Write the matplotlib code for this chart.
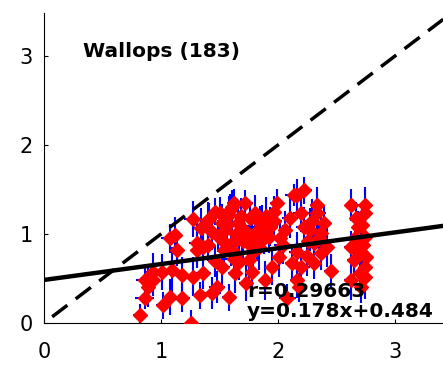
import numpy as np
import matplotlib.pyplot as plt

# Station matchups: observed x vs y with 1-sigma errors
x_obs = [0.82, 1.26, 1.27, 1.41, 1.34, 1.08, 1.12, 1.14, 1.31, 1.31,
         1.36, 0.86, 0.89, 0.93, 0.86, 1.02, 1.08, 1.18, 1.09, 1.18,
         1.27, 1.33, 1.44, 1.01, 0.93, 1.36, 1.46, 1.40, 1.59, 1.62,
         1.72, 1.61, 1.50, 1.58, 1.80, 1.99, 2.14, 1.86, 1.55, 1.69,
         1.92, 2.06, 1.52, 1.61, 2.01, 1.95, 1.52, 1.63, 1.78, 1.48,
         1.58, 1.89, 2.08, 2.12, 1.75, 1.84, 1.66, 1.70, 1.76, 1.64,
         2.22, 2.16, 2.33, 2.33, 2.62, 2.74, 2.20, 2.74, 2.39, 2.22,
         2.68, 2.37, 2.74, 2.31, 2.42, 2.62, 2.16, 2.37, 2.71, 2.65,
         2.74, 2.20, 2.31, 2.62, 2.74, 2.16, 2.71, 2.18, 1.54, 1.67,
         1.82, 1.97, 2.04, 1.46, 1.73, 1.90, 2.27, 2.45, 2.66, 2.72,
         1.56, 1.64, 1.71, 1.78, 1.85, 1.93, 1.49, 1.68, 1.81, 1.60,
         1.74, 1.88, 2.10, 2.26, 2.29, 2.73, 2.70, 2.75, 2.67, 1.44,
         1.52, 1.97, 2.02, 1.79, 2.25, 2.35, 1.62, 1.40]
y_obs = [0.09, 0.00, 1.17, 1.17, 1.07, 0.95, 0.99, 0.82, 0.90, 0.82,
         0.85, 0.48, 0.40, 0.48, 0.28, 0.20, 0.29, 0.28, 0.60, 0.54,
         0.52, 0.31, 0.34, 0.57, 0.57, 0.56, 1.25, 1.16, 1.27, 1.35,
         1.35, 1.30, 1.24, 1.21, 1.24, 1.35, 1.44, 1.08, 1.04, 1.01,
         0.97, 1.04, 0.93, 0.90, 0.74, 0.63, 0.63, 0.56, 0.57, 0.40,
         0.29, 0.48, 0.28, 0.67, 0.71, 0.85, 1.12, 0.92, 1.18, 0.78,
         1.49, 1.44, 1.33, 1.24, 1.33, 1.33, 1.24, 1.24, 1.12, 1.08,
         1.08, 1.01, 0.97, 0.90, 0.85, 0.85, 0.80, 0.79, 0.80, 0.71,
         0.63, 0.63, 0.67, 0.48, 0.52, 0.48, 0.40, 0.40, 0.82, 0.68,
         0.95, 1.15, 0.88, 0.70, 0.45, 1.20, 1.05, 0.58, 0.95, 1.10,
         1.10, 1.00, 1.05, 0.98, 1.12, 1.08, 0.98, 1.20, 1.02, 0.88,
         0.90, 0.95, 1.18, 0.92, 1.15, 0.88, 0.56, 0.74, 1.18, 1.02,
         1.12, 1.25, 0.95, 0.80, 0.75, 0.95, 0.72, 0.88]
x_err = [0.06, 0.05, 0.07, 0.05, 0.06, 0.08, 0.05, 0.06, 0.07, 0.05,
         0.06, 0.07, 0.05, 0.06, 0.08, 0.06, 0.05, 0.07, 0.06, 0.08,
         0.05, 0.06, 0.07, 0.05, 0.06, 0.07, 0.06, 0.05, 0.08, 0.06,
         0.07, 0.05, 0.06, 0.07, 0.05, 0.06, 0.08, 0.07, 0.05, 0.06,
         0.07, 0.05, 0.06, 0.08, 0.06, 0.05, 0.07, 0.06, 0.05, 0.07,
         0.06, 0.05, 0.07, 0.06, 0.08, 0.05, 0.06, 0.07, 0.05, 0.06,
         0.07, 0.05, 0.06, 0.08, 0.05, 0.06, 0.07, 0.05, 0.06, 0.07,
         0.05, 0.06, 0.04, 0.07, 0.05, 0.06, 0.07, 0.05, 0.04, 0.06,
         0.04, 0.07, 0.05, 0.06, 0.04, 0.06, 0.04, 0.05, 0.06, 0.07,
         0.05, 0.06, 0.07, 0.05, 0.06, 0.07, 0.05, 0.06, 0.05, 0.04,
         0.06, 0.05, 0.07, 0.06, 0.05, 0.07, 0.06, 0.05, 0.06, 0.07,
         0.05, 0.06, 0.07, 0.05, 0.06, 0.04, 0.05, 0.04, 0.05, 0.06,
         0.07, 0.05, 0.06, 0.07, 0.05, 0.06, 0.07, 0.05]
y_err = [0.12, 0.15, 0.20, 0.18, 0.22, 0.16, 0.20, 0.18, 0.25, 0.20,
         0.18, 0.15, 0.22, 0.18, 0.12, 0.15, 0.20, 0.16, 0.25, 0.20,
         0.22, 0.15, 0.18, 0.20, 0.22, 0.18, 0.15, 0.20, 0.18, 0.16,
         0.14, 0.20, 0.18, 0.22, 0.20, 0.16, 0.12, 0.25, 0.22, 0.20,
         0.18, 0.22, 0.20, 0.25, 0.22, 0.20, 0.24, 0.22, 0.20, 0.18,
         0.15, 0.22, 0.16, 0.20, 0.22, 0.25, 0.20, 0.22, 0.18, 0.24,
         0.15, 0.18, 0.20, 0.22, 0.18, 0.20, 0.22, 0.25, 0.20, 0.22,
         0.18, 0.22, 0.25, 0.20, 0.22, 0.18, 0.22, 0.20, 0.24, 0.22,
         0.20, 0.22, 0.18, 0.22, 0.25, 0.20, 0.18, 0.16, 0.22, 0.20,
         0.24, 0.20, 0.22, 0.18, 0.20, 0.22, 0.24, 0.20, 0.22, 0.25,
         0.20, 0.22, 0.18, 0.24, 0.20, 0.22, 0.18, 0.20, 0.22, 0.24,
         0.20, 0.18, 0.22, 0.20, 0.24, 0.22, 0.20, 0.22, 0.18, 0.20,
         0.22, 0.18, 0.20, 0.24, 0.22, 0.20, 0.22, 0.18]

station = "Wallops (183)"
r_value = 0.29663
slope, intercept = 0.178, 0.484

fig = plt.figure(figsize=(4.43, 3.66), dpi=100)
ax = fig.add_axes([44 / 443, 43 / 366, 399 / 443, 310 / 366])

ax.errorbar(x_obs, y_obs, xerr=x_err, yerr=y_err, fmt='none',
            ecolor='blue', elinewidth=1.5, capsize=0, zorder=2)
ax.plot(x_obs, y_obs, 'D', color='red', markersize=7, zorder=3)

# 1:1 reference line
ax.plot([0.07, 3.5], [0.07, 3.5], 'k--', linewidth=2.5, dashes=(5.5, 3), zorder=4)

# least squares fit
xfit = np.array([0, 3.5])
ax.plot(xfit, slope * xfit + intercept, 'k-', linewidth=3.2, zorder=4)

ax.text(0.33, 3.05, station, fontsize=14.5, fontweight='bold', va='center', ha='left')
ax.text(1.735, 0.35, f"r={r_value:.5f}", fontsize=14.5, fontweight='bold',
        va='center', ha='left', zorder=5)
ax.text(1.735, 0.13, f"y={slope:.3f}x+{intercept:.3f}", fontsize=14.5,
        fontweight='bold', va='center', ha='left', zorder=5)

ax.set_xlim(0, 399 / 117)
ax.set_ylim(0, 310 / 89)
ax.set_xticks([0, 1, 2, 3])
ax.set_yticks([0, 1, 2, 3])
ax.spines['top'].set_visible(False)
ax.spines['right'].set_visible(False)
ax.tick_params(direction='in', length=3, labelsize=15)
ax.tick_params(axis='x', pad=14)
ax.tick_params(axis='y', pad=8)

fig.savefig("out.png", dpi=100)
